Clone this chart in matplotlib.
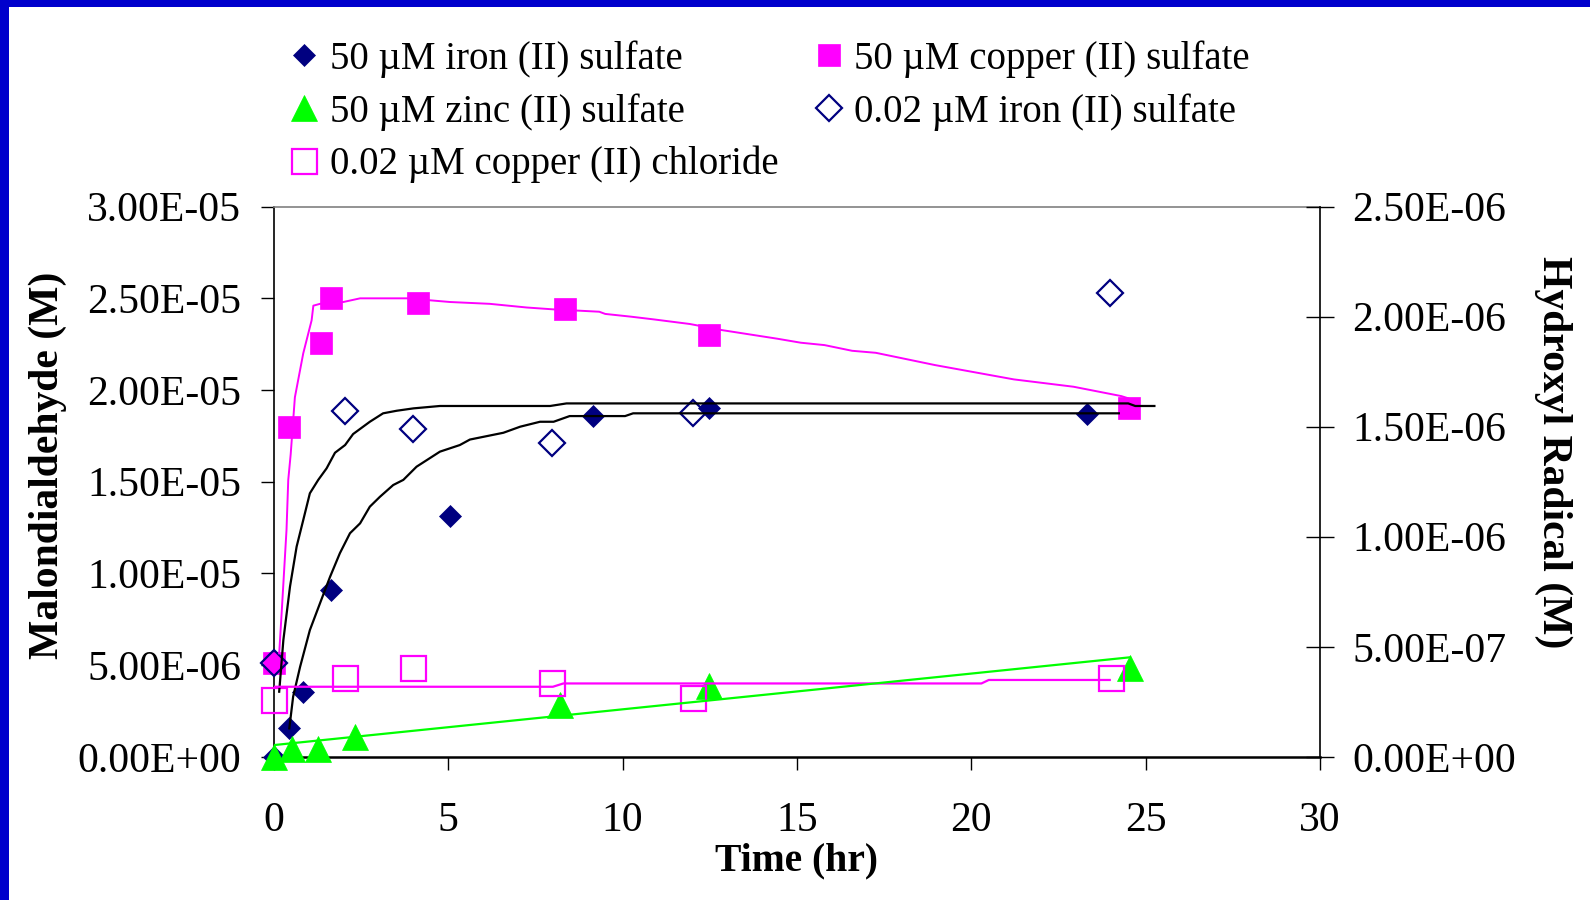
import matplotlib
matplotlib.use("Agg")
import matplotlib.pyplot as plt
from matplotlib.patches import Rectangle
from matplotlib.ticker import FuncFormatter, MultipleLocator

plt.rcParams['font.family'] = ['Liberation Serif', 'DejaVu Serif']

# measured points, time in hr, concentration in M
t_fe50 = [0, 0.44, 0.82, 1.65, 5.05, 9.16, 12.48, 23.33]
fe50 = [0.0, 1.55e-6, 3.55e-6, 9.1e-6, 1.313e-5, 1.86e-5, 1.90e-5, 1.87e-5]

t_cu50 = [0, 0.44, 1.35, 1.65, 4.14, 8.35, 12.48, 24.52]
cu50 = [5.1e-6, 1.80e-5, 2.255e-5, 2.50e-5, 2.475e-5, 2.44e-5, 2.30e-5, 1.90e-5]

t_zn50 = [0, 0.51, 1.27, 2.32, 8.2, 12.48, 24.55]
zn50 = [0.0, 0.45e-6, 0.45e-6, 1.1e-6, 2.8e-6, 3.85e-6, 4.85e-6]

t_fe002 = [0, 2.04, 3.98, 7.96, 12.03, 23.98]
fe002 = [5.1e-6, 1.886e-5, 1.786e-5, 1.713e-5, 1.873e-5, 2.527e-5]

t_cu002 = [0, 2.04, 3.98, 7.96, 12.03, 24.0]
cu002 = [3.1e-6, 4.28e-6, 4.83e-6, 4.0e-6, 3.2e-6, 4.28e-6]

# fitted curves (values in uM)
fit_fe_a_t = [0.15, 0.27, 0.46, 0.65, 0.84, 1.03, 1.27, 1.51, 1.75, 2.04, 2.27, 2.75,
              3.13, 3.52, 4.0, 4.76, 7.92, 8.39, 24.5, 24.7, 25.25]
fit_fe_a = [3.55, 6.37, 9.28, 11.46, 12.91, 14.37, 15.1, 15.73, 16.58, 17.0, 17.6, 18.27,
            18.73, 18.87, 19.0, 19.13, 19.13, 19.27, 19.27, 19.13, 19.13]

fit_fe_b_t = [0.44, 0.55, 0.75, 1.03, 1.32, 1.61, 1.89, 2.18, 2.47, 2.75, 3.04, 3.42, 3.71,
              4.09, 4.76, 5.33, 5.62, 6.58, 7.06, 7.63, 8.02, 8.48, 10.07, 10.3, 24.23]
fit_fe_b = [1.55, 3.28, 4.91, 6.91, 8.37, 9.82, 11.1, 12.19, 12.73, 13.64, 14.18, 14.82, 15.1,
            15.82, 16.64, 17.0, 17.3, 17.67, 18.0, 18.27, 18.27, 18.58, 18.58, 18.73, 18.73]

fit_cu_t = [0.15, 0.22, 0.36, 0.41, 0.48, 0.60, 0.84, 1.08, 1.13, 1.32, 1.99, 2.47, 3.81,
            5.05, 6.19, 7.25, 8.0, 9.33, 9.5, 10.24, 10.9, 11.93, 12.84, 14.43, 15.11,
            15.79, 16.58, 17.26, 18.96, 21.22, 22.93, 24.3, 24.5]
fit_cu = [5.64, 7.82, 12.37, 15.1, 16.5, 19.6, 22.0, 23.8, 24.6, 24.7, 24.8, 25.0, 25.0,
          24.8, 24.7, 24.5, 24.4, 24.27, 24.15, 24.0, 23.85, 23.6, 23.27, 22.8, 22.58,
          22.45, 22.14, 22.03, 21.36, 20.58, 20.18, 19.67, 19.55]

fit_cucl_t = [0, 8.0, 8.3, 20.29, 20.5, 23.97]
fit_cucl = [3.82, 3.82, 4.0, 4.0, 4.19, 4.19]

fit_zn_t = [0, 24.52]
fit_zn = [0.64, 5.42]

labels = ['50 µM iron (II) sulfate', '50 µM copper (II) sulfate', '50 µM zinc (II) sulfate',
          '0.02 µM iron (II) sulfate', '0.02 µM copper (II) chloride']

navy = '#000080'
magenta = '#FF00FF'
green = '#00FF00'
fs = 28
tick_fs = 30

fig = plt.figure(figsize=(15.9, 9), dpi=100)
ax = fig.add_axes([0.1723, 0.1591, 0.6579, 0.6113])

h1, = ax.plot(t_fe50, fe50, 'D', color=navy, ms=11.5, mew=0.5, ls='none', clip_on=False, zorder=3)
h2, = ax.plot(t_cu50, cu50, 's', color=magenta, ms=16, mew=0.5, ls='none', clip_on=False, zorder=3)
h3, = ax.plot(t_zn50, zn50, '^', color=green, ms=19, mew=0.5, ls='none', clip_on=False, zorder=3)
h4, = ax.plot(t_fe002, fe002, 'D', mfc='none', mec=navy, ms=13.5, mew=1.6, ls='none', clip_on=False, zorder=3)
h5, = ax.plot(t_cu002, cu002, 's', mfc='none', mec=magenta, ms=18, mew=1.6, ls='none', clip_on=False, zorder=3)

um = 1e-6
ax.plot(fit_fe_a_t, [v * um for v in fit_fe_a], color='black', lw=1.6, zorder=4)
ax.plot(fit_fe_b_t, [v * um for v in fit_fe_b], color='black', lw=1.6, zorder=4)
ax.plot(fit_cu_t, [v * um for v in fit_cu], color=magenta, lw=1.4, zorder=4)
ax.plot(fit_cucl_t, [v * um for v in fit_cucl], color=magenta, lw=1.6, zorder=4)
ax.plot(fit_zn_t, [v * um for v in fit_zn], color=green, lw=1.6, zorder=4)

ax.set_xlim(0, 30)
ax.set_ylim(0, 3e-5)
ax.xaxis.set_major_locator(MultipleLocator(5))
ax.yaxis.set_major_locator(MultipleLocator(5e-6))
sci = FuncFormatter(lambda v, p: f'{v:.2E}')
ax.yaxis.set_major_formatter(sci)
ax.tick_params(axis='x', direction='out', length=9, width=1, pad=23, labelsize=tick_fs)
ax.tick_params(axis='y', direction='out', length=9.5, width=1, pad=14, labelsize=tick_fs)

ax.spines['top'].set_color('#808080')
ax.spines['top'].set_linewidth(1.2)
ax.spines['bottom'].set_linewidth(1.8)
ax.spines['left'].set_linewidth(1.2)
ax.spines['right'].set_visible(False)

ax2 = ax.twinx()
ax2.set_ylim(0, 2.5e-6)
ax2.yaxis.set_major_locator(MultipleLocator(5e-7))
ax2.yaxis.set_major_formatter(sci)
ax2.tick_params(axis='y', direction='inout', length=20, width=1, pad=13, labelsize=tick_fs)
ax2.spines['right'].set_linewidth(1.2)
for s in ['top', 'bottom', 'left']:
    ax2.spines[s].set_visible(False)

ax.set_xlabel('Time (hr)', fontsize=28.5, fontweight='bold', labelpad=2)
fig.text(0.030, 0.483, 'Malondialdehyde (M)', rotation=90, ha='center', va='center',
         fontsize=30, fontweight='bold')
fig.text(0.977, 0.498, 'Hydroxyl Radical (M)', rotation=270, ha='center', va='center',
         fontsize=30, fontweight='bold')

fig.legend([h1, h3, h5, h2, h4], [labels[0], labels[2], labels[4], labels[1], labels[3]],
           loc='upper left', bbox_to_anchor=(0.184, 0.955), ncol=2, frameon=False,
           fontsize=fs, borderpad=0, borderaxespad=0, handlelength=0.6, handletextpad=0.35,
           columnspacing=1.0, labelspacing=0.39)

# blue frame along the top and left edges
fig.patches.append(Rectangle((0, 1 - 7 / 900), 1, 7 / 900, transform=fig.transFigure,
                             facecolor='#0000CC', edgecolor='none'))
fig.patches.append(Rectangle((0, 0), 9 / 1590, 1, transform=fig.transFigure,
                             facecolor='#0000CC', edgecolor='none'))

fig.savefig('out.png', dpi=100)
